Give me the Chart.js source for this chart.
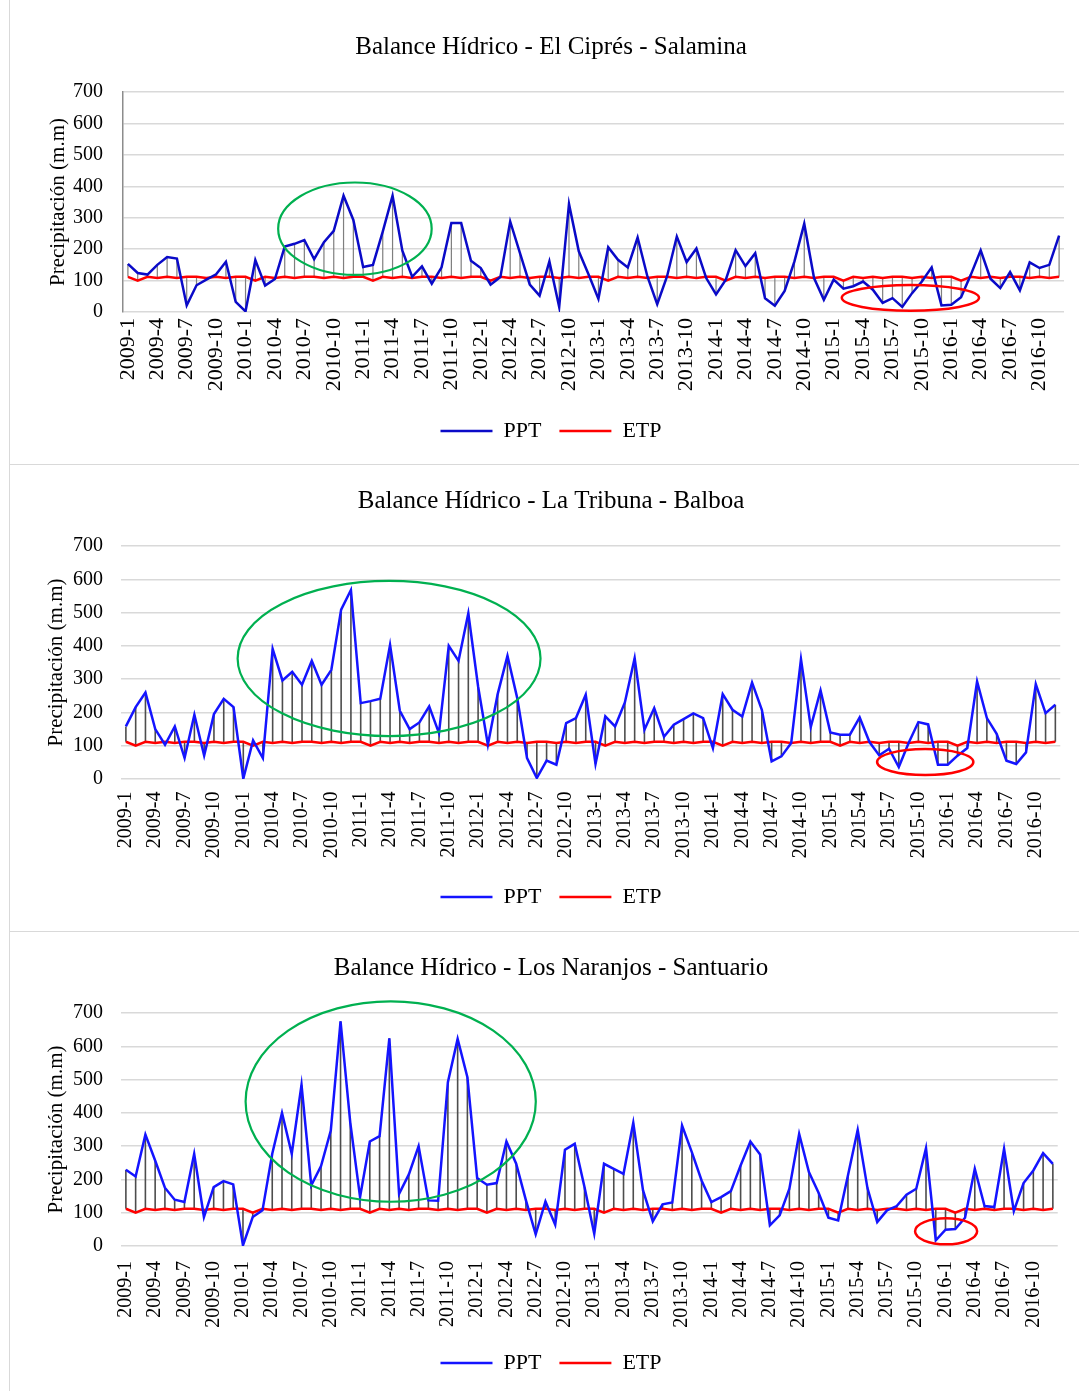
<!DOCTYPE html>
<html>
<head>
<meta charset="utf-8">
<title>Balance Hídrico</title>
<script src="https://cdn.jsdelivr.net/npm/chart.js@4.4.0/dist/chart.umd.min.js"></script>
<style>
    body { margin: 0; background: #fff; width: 1079px; height: 1391px; position: relative; overflow: hidden; }
    .frame { position: absolute; left: 9px; width: 1100px; border-left: 1.5px solid #d9d9d9; box-sizing: border-box; }
    canvas { position: absolute; left: 10px; }
</style>
</head>
<body>
<div class="frame" style="top:0; height:465px; border-bottom:1.5px solid #d9d9d9;"></div>
<div class="frame" style="top:465px; height:467px; border-bottom:1.5px solid #d9d9d9;"></div>
<div class="frame" style="top:932px; height:459px;"></div>
<canvas id="chartCipres" width="1082" height="463" style="top:0;"></canvas>
<canvas id="chartTribuna" width="1082" height="465" style="top:465px;"></canvas>
<canvas id="chartNaranjos" width="1082" height="459" style="top:932px;"></canvas>
<script>
// months 2009-1 .. 2016-12
const years = [2009, 2010, 2011, 2012, 2013, 2014, 2015, 2016];
const months = [];
years.forEach(y => { for (let m = 1; m <= 12; m++) months.push(y + '-' + m); });

// precipitation (mm) per station, one row per year
const pptCipres = [
    153, 124, 119, 150, 175, 170, 21, 85, 103, 120, 160, 32,
    2, 165, 84, 105, 208, 217, 229, 168, 222, 258, 370, 293,
    143, 150, 256, 370, 195, 112, 145, 90, 142, 283, 283, 163,
    140, 87, 111, 288, 187, 87, 52, 161, 16, 344, 193, 119,
    42, 206, 166, 142, 237, 113, 25, 113, 240, 159, 202, 108,
    56, 103, 197, 146, 187, 44, 20, 67, 161, 281, 108, 39,
    103, 74, 82, 97, 71, 29, 44, 16, 60, 97, 142, 21,
    23, 47, 119, 196, 106, 76, 127, 69, 158, 140, 150, 243
];
const pptTribuna = [
    158, 216, 260, 150, 103, 158, 63, 193, 70, 195, 241, 216,
    1, 116, 63, 391, 296, 322, 283, 355, 283, 328, 509, 568,
    228, 234, 241, 403, 205, 150, 170, 218, 138, 400, 355, 498,
    278, 103, 255, 370, 243, 63, 3, 55, 43, 168, 183, 253,
    45, 188, 158, 230, 363, 148, 213, 127, 163, 180, 197, 183,
    93, 255, 208, 188, 290, 208, 53, 68, 108, 360, 156, 266,
    140, 133, 133, 185, 111, 71, 91, 36, 108, 171, 164, 43,
    43, 70, 93, 293, 183, 136, 55, 45, 80, 285, 198, 223
];
const pptNaranjos = [
    229, 209, 335, 257, 175, 139, 132, 277, 87, 177, 195, 185,
    2, 87, 107, 277, 400, 277, 484, 182, 240, 347, 675, 370,
    147, 314, 330, 624, 157, 215, 300, 137, 136, 492, 622, 507,
    204, 184, 189, 314, 247, 137, 35, 134, 64, 289, 307, 177,
    37, 247, 232, 217, 370, 167, 74, 125, 131, 362, 282, 197,
    132, 147, 165, 242, 314, 275, 62, 92, 172, 337, 222, 159,
    85, 77, 212, 349, 174, 72, 107, 120, 154, 172, 294, 17,
    49, 51, 85, 232, 120, 117, 292, 105, 189, 227, 279, 247
];
// evapotranspiration (mm), same curve on the three stations
const etp = [
    112, 100, 112, 108, 112, 108, 112, 112, 108, 112, 108, 112,
    112, 100, 112, 108, 112, 108, 112, 112, 108, 112, 108, 112,
    112, 100, 112, 108, 112, 108, 112, 112, 108, 112, 108, 112,
    112, 100, 112, 108, 112, 108, 112, 112, 108, 112, 108, 112,
    112, 100, 112, 108, 112, 108, 112, 112, 108, 112, 108, 112,
    112, 100, 112, 108, 112, 108, 112, 112, 108, 112, 108, 112,
    112, 100, 112, 108, 112, 108, 112, 112, 108, 112, 108, 112,
    112, 100, 112, 108, 112, 108, 112, 112, 108, 112, 108, 112
];

Chart.defaults.font.family = "'Liberation Serif', 'Times New Roman', serif";
Chart.defaults.color = '#000';

// vertical lines between PPT and ETP (drawn under the lines)
const hiLowLines = {
    id: 'hiLowLines',
    beforeDatasetsDraw(chart, args, opts) {
        const ctx = chart.ctx;
        const ppt = chart.getDatasetMeta(0).data;
        const ev = chart.getDatasetMeta(1).data;
        ctx.save();
        ctx.strokeStyle = opts.color;
        ctx.lineWidth = opts.width;
        ctx.beginPath();
        ppt.forEach((p, i) => {
            ctx.moveTo(p.x, p.y);
            ctx.lineTo(p.x, ev[i].y);
        });
        ctx.stroke();
        ctx.restore();
    }
};

// hand drawn ellipses, given in data units
const rings = {
    id: 'rings',
    afterDatasetsDraw(chart, args, opts) {
        const ctx = chart.ctx;
        const x = chart.scales.x, y = chart.scales.y;
        (opts.items || []).forEach(r => {
            const cx = x.getPixelForValue(r.at);
            const cy = y.getPixelForValue(r.value);
            const rx = Math.abs(x.getPixelForValue(r.at + r.halfX) - cx);
            const ry = Math.abs(y.getPixelForValue(r.value + r.halfY) - cy);
            ctx.save();
            ctx.strokeStyle = r.color;
            ctx.lineWidth = r.width;
            ctx.beginPath();
            ctx.ellipse(cx, cy, rx, ry, 0, 0, Math.PI * 2);
            ctx.stroke();
            ctx.restore();
        });
    }
};

function makeChart(id, s) {
    new Chart(document.getElementById(id), {
        type: 'line',
        data: {
            labels: months,
            datasets: [
                { label: 'PPT', data: s.ppt, borderColor: s.blue, borderWidth: 2.5, pointRadius: 0, tension: 0, fill: false },
                { label: 'ETP', data: etp, borderColor: '#ff0000', borderWidth: 2.5, pointRadius: 0, tension: 0, fill: false }
            ]
        },
        options: {
            responsive: false,
            animation: false,
            layout: { padding: { left: 0, right: 0, top: 0, bottom: s.padBottom } },
            plugins: {
                title: {
                    display: true,
                    text: s.title,
                    font: { size: 25, weight: 'normal' },
                    padding: { top: s.titleTop, bottom: s.titleBottom }
                },
                legend: {
                    position: 'bottom',
                    labels: {
                        usePointStyle: true,
                        pointStyle: 'line',
                        pointStyleWidth: 52,
                        padding: 18,
                        font: { size: 22 }
                    }
                },
                tooltip: { enabled: false },
                hiLowLines: { color: s.stemColor, width: s.stemWidth },
                rings: { items: s.rings }
            },
            scales: {
                x: {
                    offset: true,
                    grid: { display: false, drawTicks: false },
                    border: { display: false },
                    ticks: {
                        autoSkip: false,
                        minRotation: 90,
                        maxRotation: 90,
                        padding: s.xPad,
                        font: { size: s.xFont },
                        callback: function (val, i) { return i % 3 === 0 ? this.getLabelForValue(val) : ''; }
                    },
                    afterFit: sc => { sc.height = s.xHeight; }
                },
                y: {
                    min: 0,
                    max: 700,
                    ticks: { stepSize: 100, padding: s.yPad, font: { size: 20 } },
                    grid: { color: '#d9d9d9', lineWidth: 1.5, drawTicks: false },
                    border: { display: s.yBorder, color: '#8c8c8c', width: 1.5 },
                    title: {
                        display: true,
                        text: 'Precipitación (m.m)',
                        font: { size: 21 },
                        padding: { top: s.yTitlePad, bottom: 0 }
                    },
                    afterFit: sc => { sc.width = s.yWidth; }
                },
                // empty right-hand margin, keeps title and legend centred on the frame
                gap: {
                    position: 'right',
                    min: 0,
                    max: 1,
                    grid: { display: false },
                    border: { display: false },
                    ticks: { display: false },
                    afterFit: sc => { sc.width = 28; }
                }
            }
        },
        plugins: [hiLowLines, rings]
    });
}

makeChart('chartCipres', {
    title: 'Balance Hídrico - El Ciprés - Salamina',
    ppt: pptCipres, blue: '#0a0ac8', stemColor: '#7f7f7f', stemWidth: 1.2,
    titleTop: 32, titleBottom: 30, padBottom: 11, xHeight: 90, xPad: 6, xFont: 22,
    yWidth: 113, yPad: 20, yTitlePad: 35.5, yBorder: true,
    rings: [
        { at: 23.16, value: 265, halfX: 7.83, halfY: 147, color: '#00b050', width: 2.2 },
        { at: 79.83, value: 45, halfX: 7.0, halfY: 41, color: '#ff0000', width: 2.5 }
    ]
});

makeChart('chartTribuna', {
    title: 'Balance Hídrico - La Tribuna - Balboa',
    ppt: pptTribuna, blue: '#1414ff', stemColor: '#4d4d4d', stemWidth: 1.6,
    titleTop: 21, titleBottom: 30, padBottom: 12, xHeight: 89, xPad: 12.5, xFont: 20,
    yWidth: 111, yPad: 18, yTitlePad: 33.5, yBorder: false,
    rings: [
        { at: 26.9, value: 362, halfX: 15.48, halfY: 233, color: '#00b050', width: 2.2 },
        { at: 81.7, value: 51, halfX: 4.92, halfY: 39, color: '#ff0000', width: 2.5 }
    ]
});

makeChart('chartNaranjos', {
    title: 'Balance Hídrico - Los Naranjos - Santuario',
    ppt: pptNaranjos, blue: '#1414ff', stemColor: '#4d4d4d', stemWidth: 1.6,
    titleTop: 21, titleBottom: 30, padBottom: 7, xHeight: 88, xPad: 15, xFont: 20,
    yWidth: 111, yPad: 18, yTitlePad: 33.5, yBorder: false,
    rings: [
        { at: 27.14, value: 434, halfX: 14.87, halfY: 301, color: '#00b050', width: 2.2 },
        { at: 84.06, value: 44, halfX: 3.18, halfY: 39, color: '#ff0000', width: 2.5 }
    ]
});
</script>
</body>
</html>
